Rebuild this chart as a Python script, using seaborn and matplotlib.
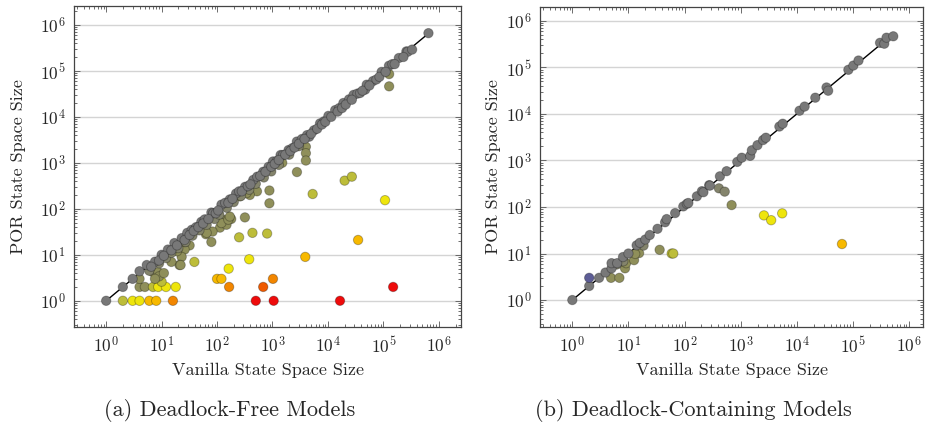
import matplotlib
matplotlib.use("Agg")
import matplotlib.pyplot as plt
import numpy as np
import pandas as pd
import seaborn as sns
from matplotlib.ticker import LogLocator, NullFormatter, LogFormatterSciNotation, FixedLocator

# ---------------- data ----------------
# colour level of each point: 0 blue, 1 grey, 2 grey-olive, 3 olive, 4 yellow-olive,
# 5 yellow, 6 orange-yellow, 7 orange, 8 orange-red, 9 red
free_x = [
    2, 3, 4, 6, 8, 16, 500, 1050, 16500,
    4, 5, 7, 8.7, 12, 18, 165, 680, 150000,
    100, 120, 1020,
    162, 380, 3900, 35000, 107000, 20000, 27000, 5300, 2760, 4000, 4000, 4000, 880, 880,
    800, 435, 250, 318, 180, 113, 79, 63, 39, 1500, 127000, 127000,
    525, 390, 340, 257, 129, 148, 83, 32, 26, 23, 21, 4, 7, 8.7, 10, 9, 11, 15, 22, 65,
    26, 19, 120, 160, 170, 7.6,
    6, 9, 12, 15, 20, 27, 36, 48, 65, 90, 110, 150, 200, 270, 380, 500, 700, 950, 1300,
    2000, 3000,
    1, 2, 3, 4, 5.4, 7.6, 10, 13, 17, 23, 29, 35, 42, 52, 60, 79, 85, 120, 140, 170, 220,
    250, 320, 450, 530, 680, 850, 1020, 1200, 1400, 1550, 1950, 2300, 2750, 3400, 4200,
    4600, 5600, 7200, 8500, 10200, 13500, 16000, 19000, 24000, 29000, 34000, 47000, 50000,
    65000, 93000, 126000, 145000, 190000, 260000, 275000, 650000,
    6.5, 9, 11, 15, 19, 26, 32, 38, 46, 56, 70, 95, 105, 160, 190, 280, 360, 400, 600, 750,
    950, 1100, 1300, 1700, 2100, 2500, 3000, 3800, 5000, 6400, 7800, 9000, 11500, 15000,
    18000, 21000, 27000, 38000, 42000, 56000, 75000, 85000, 110000, 160000, 230000, 330000,
]
free_y = [
    1, 1, 1, 1, 1, 1, 1, 1, 1,
    2, 2, 2, 2, 2, 2, 2, 2, 2,
    3, 3, 3,
    5, 8, 9, 21, 154, 410, 500, 210, 630, 2240, 1620, 1120, 250, 132,
    29, 30, 24, 65, 60, 39, 19, 28, 7, 1000, 85000, 46000,
    240, 200, 220, 186, 58, 45, 32, 16, 13, 9, 6, 3, 4.2, 4.2, 2.6, 3.4, 4, 7, 6, 30,
    19, 12, 49, 58, 68, 3,
    4.5, 6.5, 8.5, 11, 14, 19, 26, 34, 45, 60, 75, 105, 140, 190, 260, 350, 480, 650, 900,
    1500, 2300,
    1, 2, 3, 4.4, 6, 7.1, 10, 13, 18, 23, 30, 35, 40, 52, 59, 83, 80, 123, 135, 160, 215,
    240, 300, 425, 500, 640, 820, 1070, 1100, 1480, 1480, 1900, 2100, 2900, 3300, 4000,
    3700, 5100, 7200, 8000, 10500, 14000, 15500, 20000, 24000, 30000, 32000, 39000, 50000,
    60000, 95000, 129000, 140000, 190000, 265000, 260000, 660000,
    5.5, 7.5, 9.5, 12.5, 16, 21, 27, 33, 40, 48, 60, 80, 92, 135, 165, 240, 310, 340, 520, 640,
    820, 950, 1150, 1500, 1800, 2150, 2600, 3300, 4300, 5500, 6800, 7800, 10000, 13000,
    15500, 18500, 23500, 33000, 37000, 48000, 65000, 74000, 95000, 140000, 200000, 290000,
]
free_level = [
    4, 5, 5, 6, 6, 7, 9, 9, 9,
    3, 3, 4, 5, 5, 5, 7, 8, 9,
    6, 6, 7,
    5, 5, 6, 6, 5, 4, 4, 4, 3, 3, 3, 3, 3, 3,
    4, 4, 4, 3, 3, 3, 3, 3, 4, 3, 3, 3,
    3, 3, 3, 3, 3, 3, 3, 3, 3, 3, 3, 3, 3, 3, 4, 3, 3, 3, 3, 3,
    3, 3, 3, 3, 3, 3,
    2, 2, 2, 2, 2, 2, 2, 2, 2, 2, 2, 2, 2, 2, 2, 2, 2, 2, 2,
    2, 2,
    1, 1, 1, 1, 1, 1, 1, 1, 1, 1, 1, 1, 1, 1, 1, 1, 1, 1, 1, 1, 1,
    1, 1, 1, 1, 1, 1, 1, 1, 1, 1, 1, 1, 1, 1, 1,
    1, 1, 1, 1, 1, 1, 1, 1, 1, 1, 1, 1, 1,
    1, 1, 1, 1, 1, 1, 1, 1,
    1, 1, 1, 1, 1, 1, 1, 1, 1, 1, 1, 1, 1, 1, 1, 1, 1, 1, 1, 1,
    1, 1, 1, 1, 1, 1, 1, 1, 1, 1, 1, 1, 1, 1,
    1, 1, 1, 1, 1, 1, 1, 1, 1, 1, 1, 1,
]

dead_x = [
    4.9, 6.9, 8.7, 9.1, 12.6, 15.5, 13.2, 18.6, 36, 59, 63, 410, 520, 690, 2600, 3500,
    5500, 64000, 8.1, 6.2,
    1, 2, 3, 3.9, 5, 5, 6.3, 8, 10, 14, 16, 20, 24, 33, 45, 48, 68, 95, 110, 117, 166, 204,
    217, 275, 283, 427, 562, 871, 1047, 1479, 1585, 1995, 2512, 2818, 4900, 5620, 11200,
    13800, 21400, 33900, 36300, 83200, 102000, 126000, 305000, 363000, 398000, 525000,
    2,
]
dead_y = [
    3, 3, 4.8, 6.2, 7.2, 10.2, 9.8, 14.8, 12, 10, 10, 252, 214, 110, 66, 52,
    73, 16, 6.8, 5.8,
    1, 2, 3, 3.9, 4.8, 6.2, 6.2, 8.4, 10, 15, 17, 20, 25, 34, 47, 55, 74, 103, 117, 122, 170,
    219, 208, 295, 288, 457, 589, 933, 1148, 1259, 1660, 2138, 2754, 3090, 5370, 6170, 11750,
    14450, 22400, 37150, 31600, 89100, 110000, 141000, 339000, 324000, 437000, 468000,
    3,
]
dead_level = [
    3, 3, 3, 3, 3, 3, 3, 2, 3, 4, 4, 2, 2, 3, 5, 5,
    5, 6, 2, 2,
    1, 1, 1, 1, 1, 1, 1, 1, 1, 1, 1, 1, 1, 1, 1, 1, 1, 1, 1, 1, 1, 1,
    1, 1, 1, 1, 1, 1, 1, 1, 1, 1, 1, 1, 1, 1, 1,
    1, 1, 1, 1, 1, 1, 1, 1, 1, 1, 1,
    0,
]

decades = [0, 1, 2, 3, 4, 5, 6]
captions = ["(a) Deadlock-Free Models", "(b) Deadlock-Containing Models"]
x_label = "Vanilla State Space Size"
y_label = "POR State Space Size"

palette = {0: "#5d5d96", 1: "#787878", 2: "#84846c", 3: "#8f8f5a", 4: "#bdbd3a",
           5: "#eee50c", 6: "#f7b900", 7: "#f28600", 8: "#ef5a00", 9: "#ee0b0b"}

# ---------------- style ----------------
sns.set_theme(style="ticks")
plt.rcParams["font.family"] = ["cmr10", "DejaVu Serif"]
plt.rcParams["mathtext.fontset"] = "cm"
plt.rcParams["axes.formatter.use_mathtext"] = True

fig = plt.figure(figsize=(9.26, 4.3), dpi=100)
W, H = 926, 430
axA = fig.add_axes([74 / W, 1 - 327 / H, (461 - 74) / W, (327 - 6) / H])
axB = fig.add_axes([540 / W, 1 - 327 / H, (923 - 540) / W, (327 - 7) / H])


def panel(ax, xs, ys, lv, xlim, ylim, ylab_x):
    df = pd.DataFrame({"x": xs, "y": ys, "lv": lv})
    lo = min(df["x"].min(), df["y"].min())
    hi = max(df["x"].max(), df["y"].max())
    ax.plot([lo, hi], [lo, hi], color="black", lw=1.0, zorder=2)
    sns.scatterplot(data=df, x="x", y="y", hue="lv", palette=palette, s=46,
                    edgecolor=(0, 0, 0, 0.28), linewidth=0.7, legend=False,
                    ax=ax, zorder=3)
    ax.set_xscale("log")
    ax.set_yscale("log")
    ax.set_xlim(*xlim)
    ax.set_ylim(*ylim)
    major = [10.0 ** d for d in decades]
    for axis in (ax.xaxis, ax.yaxis):
        axis.set_major_locator(FixedLocator(major))
        axis.set_major_formatter(LogFormatterSciNotation())
        axis.set_minor_locator(LogLocator(base=10, subs=np.arange(2, 10), numticks=20))
        axis.set_minor_formatter(NullFormatter())
    ax.tick_params(which="both", direction="in", top=True, right=True,
                   color="#555555", width=0.6, labelsize=12.5, pad=6)
    ax.tick_params(which="major", length=4)
    ax.tick_params(which="minor", length=2.2)
    ax.yaxis.grid(True, which="major", color="#d4d4d4", lw=1.0)
    ax.xaxis.grid(False)
    ax.set_axisbelow(True)
    for sp in ax.spines.values():
        sp.set_color("#444444")
        sp.set_linewidth(0.9)
    ax.set_xlabel(x_label, fontsize=13, labelpad=5)
    ax.set_ylabel(y_label, fontsize=13)
    ax.yaxis.set_label_coords(ylab_x, 0.5)


panel(axA, free_x, free_y, free_level, (10 ** -0.58, 10 ** 6.4), (10 ** -0.57, 10 ** 6.41), -0.124)
panel(axB, dead_x, dead_y, dead_level, (10 ** -0.576, 10 ** 6.25), (10 ** -0.58, 10 ** 6.30), -0.102)

fig.text(230 / W, 1 - 410 / H, captions[0], ha="center", va="center", fontsize=16)
fig.text(693 / W, 1 - 410 / H, captions[1], ha="center", va="center", fontsize=16)

fig.savefig("out.png", dpi=100)
